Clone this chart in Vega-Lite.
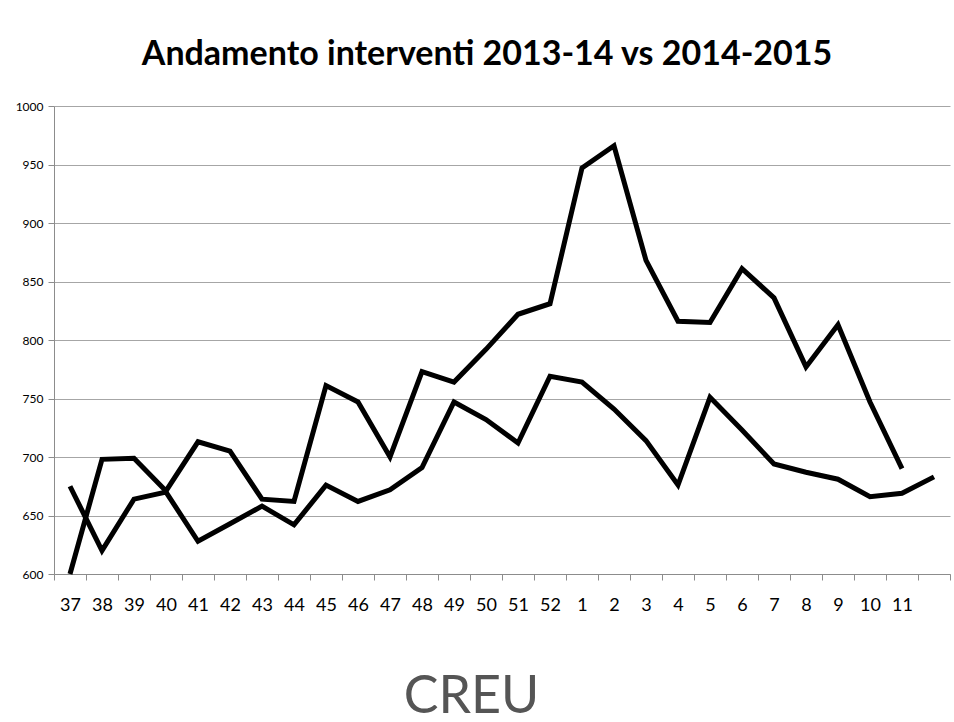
{
  "$schema": "https://vega.github.io/schema/vega-lite/v6.json",
  "width": 896,
  "height": 468,
  "autosize": {"type": "none"},
  "padding": {"left": 54, "top": 106, "right": 4, "bottom": 148},
  "background": "white",
  "title": {
    "text": "Andamento interventi 2013-14 vs 2014-2015",
    "font": "Lato",
    "fontSize": 34,
    "fontWeight": "bold",
    "color": "black",
    "anchor": "middle",
    "offset": 28,
    "dx": -15
  },
  "data": {
    "values": [
      {"settimana": "37", "stagione": "2013-14", "interventi": 675},
      {"settimana": "38", "stagione": "2013-14", "interventi": 620},
      {"settimana": "39", "stagione": "2013-14", "interventi": 664},
      {"settimana": "40", "stagione": "2013-14", "interventi": 670},
      {"settimana": "41", "stagione": "2013-14", "interventi": 628},
      {"settimana": "42", "stagione": "2013-14", "interventi": 643},
      {"settimana": "43", "stagione": "2013-14", "interventi": 658},
      {"settimana": "44", "stagione": "2013-14", "interventi": 642},
      {"settimana": "45", "stagione": "2013-14", "interventi": 676},
      {"settimana": "46", "stagione": "2013-14", "interventi": 662},
      {"settimana": "47", "stagione": "2013-14", "interventi": 672},
      {"settimana": "48", "stagione": "2013-14", "interventi": 691},
      {"settimana": "49", "stagione": "2013-14", "interventi": 747},
      {"settimana": "50", "stagione": "2013-14", "interventi": 732},
      {"settimana": "51", "stagione": "2013-14", "interventi": 712},
      {"settimana": "52", "stagione": "2013-14", "interventi": 769},
      {"settimana": "1", "stagione": "2013-14", "interventi": 764},
      {"settimana": "2", "stagione": "2013-14", "interventi": 741},
      {"settimana": "3", "stagione": "2013-14", "interventi": 714},
      {"settimana": "4", "stagione": "2013-14", "interventi": 676},
      {"settimana": "5", "stagione": "2013-14", "interventi": 751},
      {"settimana": "6", "stagione": "2013-14", "interventi": 723},
      {"settimana": "7", "stagione": "2013-14", "interventi": 694},
      {"settimana": "8", "stagione": "2013-14", "interventi": 687},
      {"settimana": "9", "stagione": "2013-14", "interventi": 681},
      {"settimana": "10", "stagione": "2013-14", "interventi": 666},
      {"settimana": "11", "stagione": "2013-14", "interventi": 669},
      {"settimana": "12", "stagione": "2013-14", "interventi": 683},
      {"settimana": "37", "stagione": "2014-15", "interventi": 600},
      {"settimana": "38", "stagione": "2014-15", "interventi": 698},
      {"settimana": "39", "stagione": "2014-15", "interventi": 699},
      {"settimana": "40", "stagione": "2014-15", "interventi": 671},
      {"settimana": "41", "stagione": "2014-15", "interventi": 713},
      {"settimana": "42", "stagione": "2014-15", "interventi": 705},
      {"settimana": "43", "stagione": "2014-15", "interventi": 664},
      {"settimana": "44", "stagione": "2014-15", "interventi": 662},
      {"settimana": "45", "stagione": "2014-15", "interventi": 761},
      {"settimana": "46", "stagione": "2014-15", "interventi": 747},
      {"settimana": "47", "stagione": "2014-15", "interventi": 700},
      {"settimana": "48", "stagione": "2014-15", "interventi": 773},
      {"settimana": "49", "stagione": "2014-15", "interventi": 764},
      {"settimana": "50", "stagione": "2014-15", "interventi": 792},
      {"settimana": "51", "stagione": "2014-15", "interventi": 822},
      {"settimana": "52", "stagione": "2014-15", "interventi": 831},
      {"settimana": "1", "stagione": "2014-15", "interventi": 947},
      {"settimana": "2", "stagione": "2014-15", "interventi": 966},
      {"settimana": "3", "stagione": "2014-15", "interventi": 868},
      {"settimana": "4", "stagione": "2014-15", "interventi": 816},
      {"settimana": "5", "stagione": "2014-15", "interventi": 815},
      {"settimana": "6", "stagione": "2014-15", "interventi": 861},
      {"settimana": "7", "stagione": "2014-15", "interventi": 836},
      {"settimana": "8", "stagione": "2014-15", "interventi": 777},
      {"settimana": "9", "stagione": "2014-15", "interventi": 813},
      {"settimana": "10", "stagione": "2014-15", "interventi": 747},
      {"settimana": "11", "stagione": "2014-15", "interventi": 690}
    ]
  },
  "mark": {"type": "line", "color": "black", "strokeWidth": 5, "strokeJoin": "miter"},
  "encoding": {
    "x": {
      "field": "settimana",
      "type": "ordinal",
      "scale": {
        "type": "band",
        "paddingInner": 0,
        "paddingOuter": 0,
        "domain": ["37","38","39","40","41","42","43","44","45","46","47","48","49","50","51","52","1","2","3","4","5","6","7","8","9","10","11","12"]
      },
      "axis": {
        "title": "CREU",
        "titleFont": "Lato",
        "titleFontSize": 52,
        "titleFontWeight": "normal",
        "titleColor": "#555555",
        "titleX": 417,
        "titleY": 138,
        "titleBaseline": "alphabetic",
        "titleAnchor": "middle",
        "labelAngle": 0,
        "labelExpr": "datum.value == '12' ? '' : datum.value",
        "labelFont": "Lato",
        "labelFontSize": 18,
        "labelColor": "black",
        "labelPadding": 16,
        "tickBand": "extent",
        "tickSize": 6,
        "tickColor": "#8c8c8c",
        "domainColor": "#8c8c8c",
        "grid": false
      }
    },
    "y": {
      "field": "interventi",
      "type": "quantitative",
      "scale": {"domain": [600, 1000], "nice": false, "zero": false},
      "axis": {
        "title": null,
        "format": "d",
        "values": [600, 650, 700, 750, 800, 850, 900, 950, 1000],
        "labelFont": "Lato",
        "labelFontSize": 12,
        "labelColor": "black",
        "labelPadding": 5,
        "tickSize": 6,
        "tickColor": "#8c8c8c",
        "domainColor": "#8c8c8c",
        "gridColor": "#a6a6a6",
        "gridWidth": 1
      }
    },
    "detail": {"field": "stagione"}
  },
  "config": {"view": {"stroke": null}}
}
